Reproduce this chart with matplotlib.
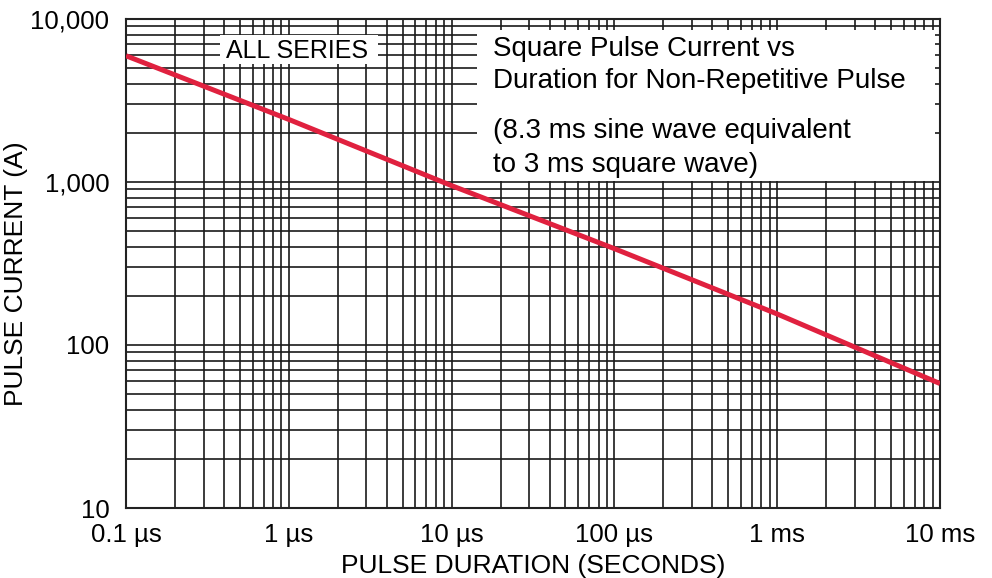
import matplotlib
matplotlib.use("Agg")
import matplotlib.pyplot as plt
from matplotlib.patches import Rectangle
from matplotlib.ticker import FixedLocator, NullFormatter, LogLocator

plt.rcParams['font.family'] = ['Liberation Sans', 'DejaVu Sans']

# Data
duration_s = [1e-7, 1e-6, 1e-5, 1e-4, 1e-3, 1e-2]
current_a = [5950, 2420, 950, 390, 155, 58]

x_ticks = [1e-7, 1e-6, 1e-5, 1e-4, 1e-3, 1e-2]
x_tick_labels = ['0.1 µs', '1 µs', '10 µs', '100 µs', '1 ms', '10 ms']
y_ticks = [10, 100, 1000, 10000]
y_tick_labels = ['10', '100', '1,000', '10,000']

title_lines = ['Square Pulse Current vs', 'Duration for Non-Repetitive Pulse']
note_lines = ['(8.3 ms sine wave equivalent', 'to 3 ms square wave)']
series_label = 'ALL SERIES'

fig = plt.figure(figsize=(9.92, 5.78), dpi=100)
ax = fig.add_axes([126/992, 1-508/578, 814/992, 489/578])
ax.set_xscale('log')
ax.set_yscale('log')
ax.set_xlim(1e-7, 1e-2)
ax.set_ylim(10, 10000)

ax.xaxis.set_major_locator(FixedLocator(x_ticks))
ax.set_xticklabels(x_tick_labels)
ax.yaxis.set_major_locator(FixedLocator(y_ticks))
ax.set_yticklabels(y_tick_labels)
ax.xaxis.set_minor_locator(LogLocator(base=10, subs=range(2, 10)))
ax.yaxis.set_minor_locator(LogLocator(base=10, subs=range(2, 10)))
ax.xaxis.set_minor_formatter(NullFormatter())
ax.yaxis.set_minor_formatter(NullFormatter())

ax.grid(True, which='both', color='#1a1a1a', linewidth=1.2, zorder=1)
ax.set_axisbelow(True)
ax.tick_params(which='both', length=0, labelsize=18.5, colors='black')
ax.tick_params(axis='x', pad=11)
ax.tick_params(axis='y', pad=12)
for s in ax.spines.values():
    s.set_linewidth(1.5)
    s.set_color('#222222')

ax.set_xlabel('PULSE DURATION (SECONDS)', fontsize=19, labelpad=5)
ax.set_ylabel('PULSE CURRENT (A)', fontsize=19)
ax.yaxis.set_label_coords(-0.121, 0.48)

# White boxes covering the grid
ax.add_patch(Rectangle((0.431, 0.669), 0.994-0.431, 0.9775-0.669, transform=ax.transAxes,
                       facecolor='white', edgecolor='none', zorder=2))
ax.add_patch(Rectangle((0.115, 0.907), 0.3095-0.115, 0.967-0.907, transform=ax.transAxes,
                       facecolor='white', edgecolor='none', zorder=2))

ax.text(0.2105, 0.935, series_label, transform=ax.transAxes, fontsize=18,
        ha='center', va='center', zorder=3)
for txt, yb in zip(title_lines + note_lines, [0.925, 0.859, 0.757, 0.687]):
    ax.text(0.451, yb, txt, transform=ax.transAxes, fontsize=20,
            ha='left', va='baseline', zorder=3)

ax.plot(duration_s, current_a, color='#e0213f', linewidth=3.6, zorder=4,
        solid_capstyle='butt', clip_on=True)

fig.savefig('out.png', dpi=100)
